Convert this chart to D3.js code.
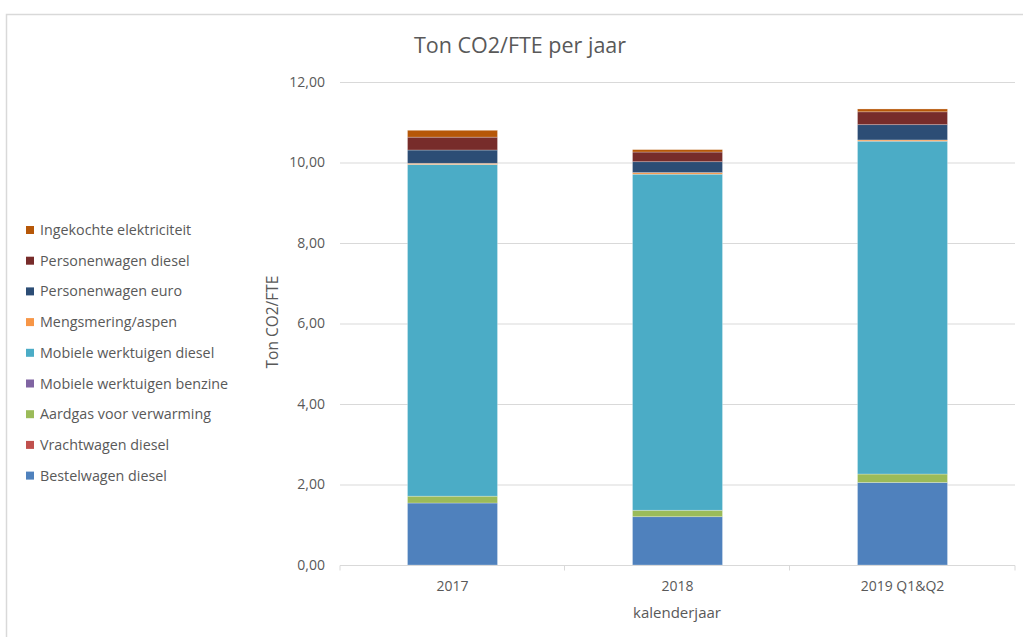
<!DOCTYPE html>
<html>
<head>
<meta charset="utf-8">
<script src="https://cdn.jsdelivr.net/npm/d3@7"></script>
<style>
  body { margin: 0; background: #fff; }
  svg { display: block; font-family: "Open Sans", sans-serif; }
</style>
</head>
<body>
<svg width="1023" height="637"></svg>
<script>
// categories and stacked series (bottom to top)
const years = ["2017", "2018", "2019 Q1&Q2"];
const seriesNames = [
	"Bestelwagen diesel",
	"Vrachtwagen diesel",
	"Aardgas voor verwarming",
	"Mobiele werktuigen benzine",
	"Mobiele werktuigen diesel",
	"Mengsmering/aspen",
	"Personenwagen euro",
	"Personenwagen diesel",
	"Ingekochte elektriciteit"
];
const bestelwagenDiesel = [1.54, 1.20, 2.05];
const vrachtwagenDiesel = [0, 0, 0];
const aardgas = [0.17, 0.16, 0.21];
const werktuigenBenzine = [0, 0, 0];
const werktuigenDiesel = [8.24, 8.35, 8.27];
const mengsmering = [0.03, 0.04, 0.03];
const personenwagenEuro = [0.33, 0.27, 0.38];
const personenwagenDiesel = [0.32, 0.24, 0.32];
const elektriciteit = [0.17, 0.06, 0.07];
const yTicks = [0, 2, 4, 6, 8, 10, 12];

const colors = ["#4F81BD", "#C0504D", "#9BBB59", "#8064A2", "#4BACC6",
	"#F79646", "#2C4D75", "#772C2A", "#B65708"];

const values = [bestelwagenDiesel, vrachtwagenDiesel, aardgas, werktuigenBenzine,
	werktuigenDiesel, mengsmering, personenwagenEuro, personenwagenDiesel, elektriciteit];

const table = years.map((y, i) => {
	const row = { year: y };
	seriesNames.forEach((s, j) => { row[s] = values[j][i]; });
	return row;
});
const stacked = d3.stack().keys(seriesNames)(table);

const svg = d3.select("svg");
const textColor = "#595959";

// chart border
svg.append("rect")
	.attr("x", 6.5).attr("y", 14.5)
	.attr("width", 1030).attr("height", 640)
	.attr("fill", "none")
	.attr("stroke", "#d9d9d9")
	.attr("stroke-width", 1.5);

const x = d3.scaleBand()
	.domain(years)
	.range([340, 1015])
	.paddingInner(0.6)
	.paddingOuter(0.3);

const y = d3.scaleLinear()
	.domain([0, 12])
	.range([565, 82]);

// gridlines
svg.append("g")
	.selectAll("line")
	.data(yTicks.slice(1))
	.join("line")
	.attr("x1", 340).attr("x2", 1015)
	.attr("y1", d => y(d) + 0.5).attr("y2", d => y(d) + 0.5)
	.attr("stroke", "#d9d9d9");

// y axis labels
const yAxis = svg.append("g")
	.attr("transform", "translate(340,0)")
	.call(d3.axisLeft(y).tickValues(yTicks).tickSize(0).tickPadding(15)
		.tickFormat(d => d3.format(".2f")(d).replace(".", ",")));
yAxis.select(".domain").remove();
yAxis.selectAll("text")
	.attr("fill", textColor)
	.style("font-size", "14px")
	.style("font-family", "Open Sans, sans-serif");

// bars
svg.append("g")
	.selectAll("g")
	.data(stacked)
	.join("g")
	.attr("fill", (d, i) => colors[i])
	.selectAll("rect")
	.data(d => d)
	.join("rect")
	.attr("x", d => x(d.data.year))
	.attr("width", x.bandwidth())
	.attr("y", d => y(d[1]))
	.attr("height", d => y(d[0]) - y(d[1]))
	.attr("stroke", "#ffffff")
	.attr("stroke-opacity", 0.35)
	.attr("stroke-width", 0.75);

// x axis
const xAxis = svg.append("g")
	.attr("transform", "translate(0,565.5)")
	.call(d3.axisBottom(x).tickSize(0).tickPadding(16));
xAxis.select(".domain").attr("stroke", "#d9d9d9").attr("d", "M340,5V0H1015V5");
xAxis.selectAll("text")
	.attr("fill", textColor)
	.style("font-size", "14px")
	.style("font-family", "Open Sans, sans-serif");

// boundary ticks between categories
svg.append("g")
	.selectAll("line")
	.data(years.slice(1))
	.join("line")
	.attr("x1", d => x(d) - x.step() * x.paddingInner() / 2 - 0.5)
	.attr("x2", d => x(d) - x.step() * x.paddingInner() / 2 - 0.5)
	.attr("y1", 565.5).attr("y2", 570.5)
	.attr("stroke", "#d9d9d9");

// titles
svg.append("text")
	.attr("x", 520).attr("y", 53)
	.attr("text-anchor", "middle")
	.attr("fill", textColor)
	.style("font-size", "21.5px")
	.text("Ton CO2/FTE per jaar");

svg.append("text")
	.attr("x", 677).attr("y", 618)
	.attr("text-anchor", "middle")
	.attr("fill", textColor)
	.style("font-size", "15px")
	.text("kalenderjaar");

svg.append("text")
	.attr("transform", "translate(278,322) rotate(-90)")
	.attr("text-anchor", "middle")
	.attr("fill", textColor)
	.style("font-size", "15.5px")
	.text("Ton CO2/FTE");

// legend (top to bottom = reverse stack order)
const legendItems = seriesNames.map((s, i) => ({ name: s, color: colors[i] })).reverse();
const legend = svg.append("g")
	.selectAll("g")
	.data(legendItems)
	.join("g")
	.attr("transform", (d, i) => `translate(26,${230 + i * 30.7})`);

legend.append("rect")
	.attr("x", 0).attr("y", -4)
	.attr("width", 8).attr("height", 8)
	.attr("fill", d => d.color);

legend.append("text")
	.attr("x", 14).attr("y", 0)
	.attr("dy", "0.35em")
	.attr("fill", textColor)
	.style("font-size", "14.3px")
	.text(d => d.name);
</script>
</body>
</html>
